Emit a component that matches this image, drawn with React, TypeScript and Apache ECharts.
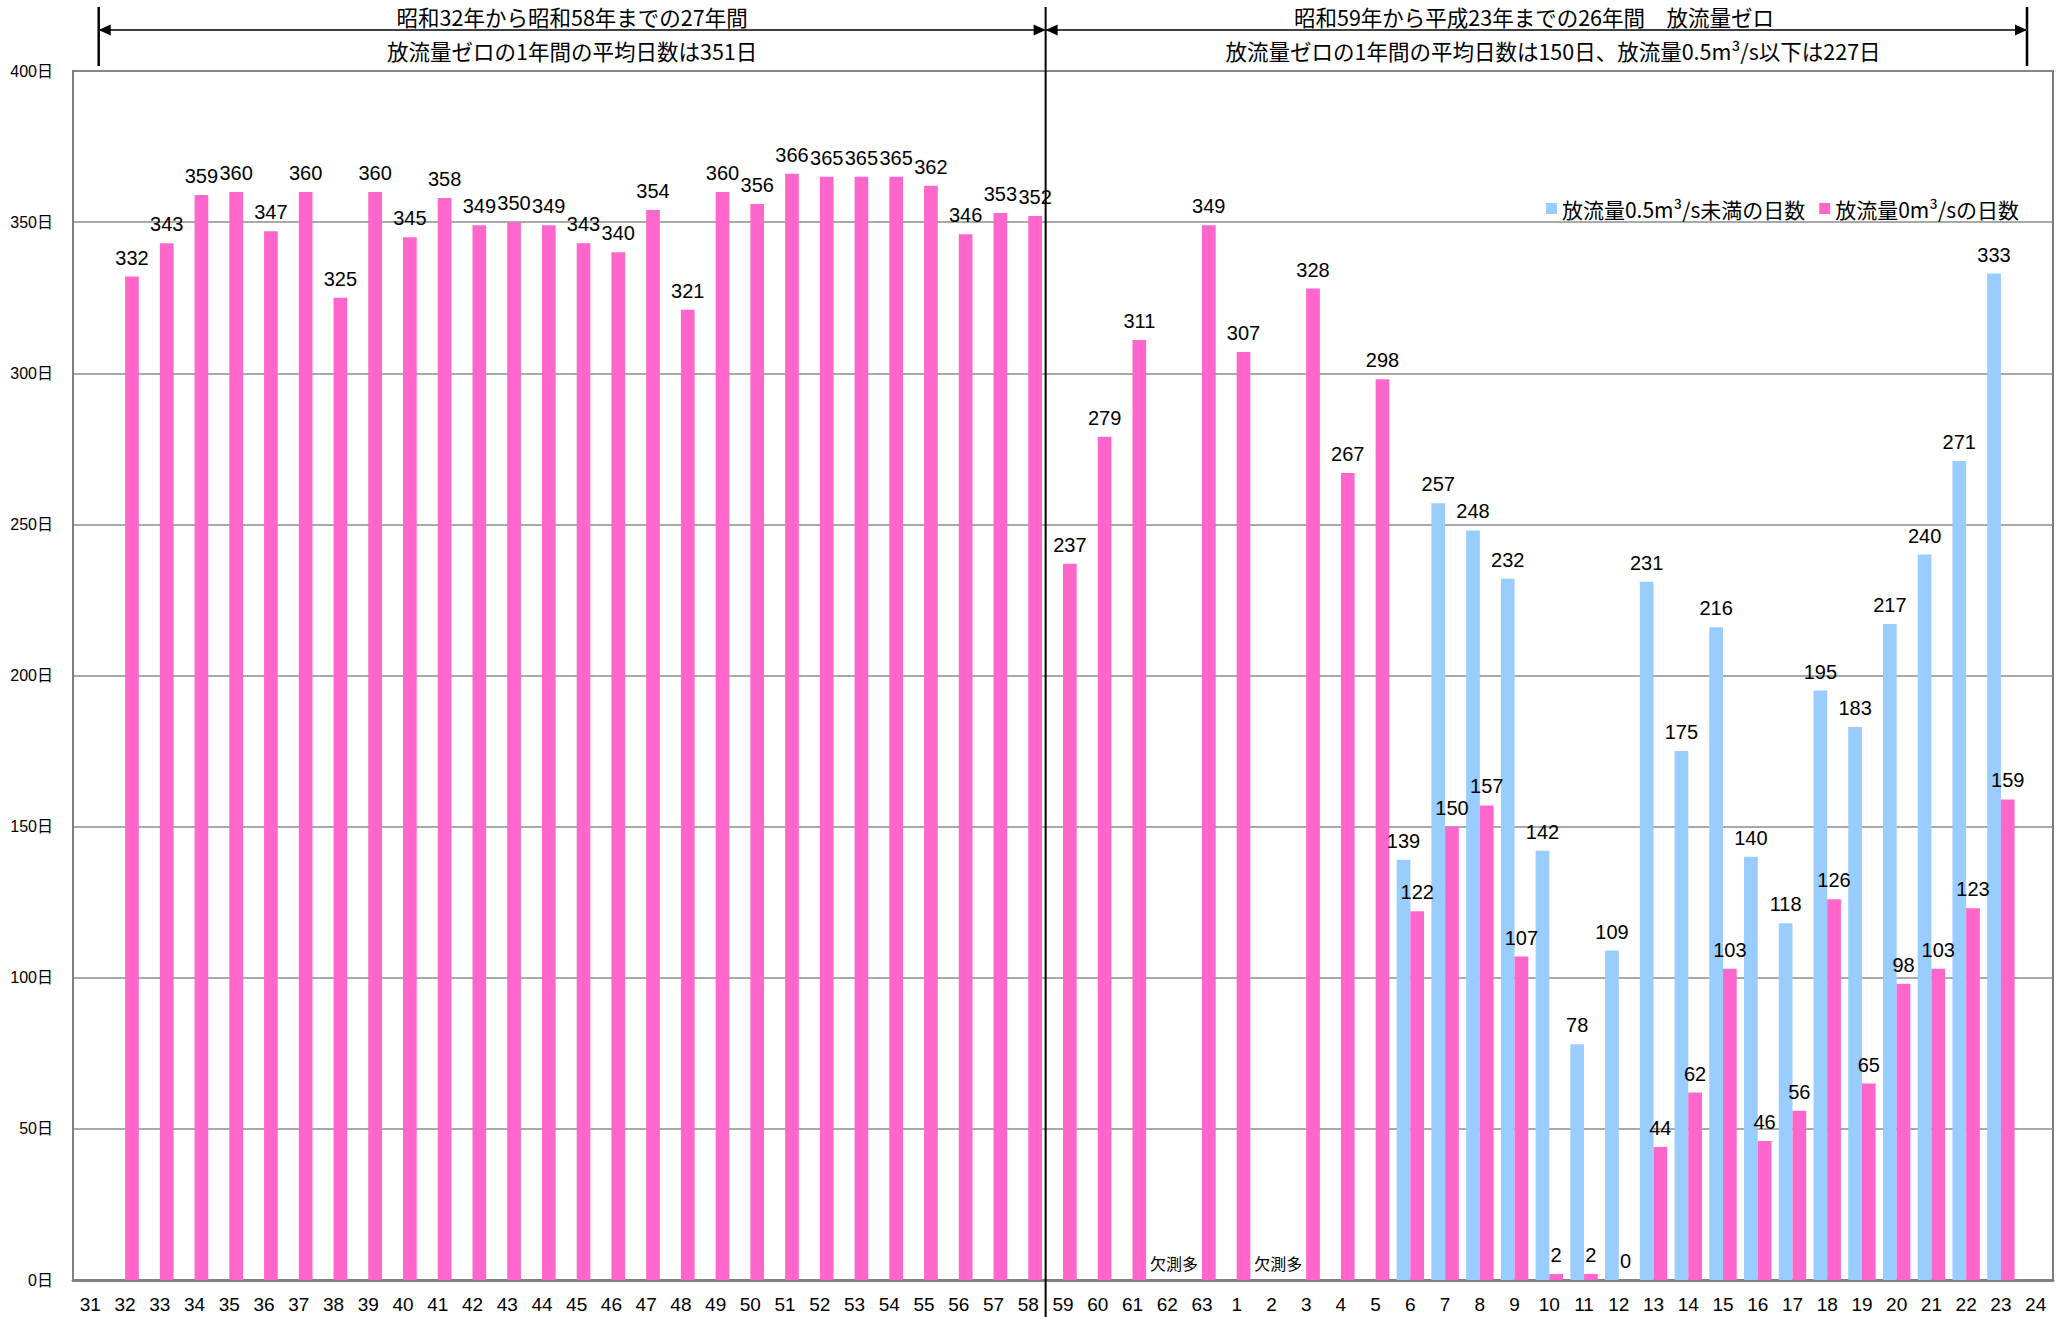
import React, { useEffect, useRef } from "react";
import * as echarts from "echarts";

// ---- data ----
const showaYears = ["31","32","33","34","35","36","37","38","39","40","41","42","43","44","45","46","47","48","49","50","51","52","53","54","55","56","57","58","59","60","61","62","63"];
const heiseiYears = ["1","2","3","4","5","6","7","8","9","10","11","12","13","14","15","16","17","18","19","20","21","22","23","24"];
const categories = [...showaYears, ...heiseiYears];

const seriesNames = ["放流量0.5m³/s未満の日数", "放流量0m³/sの日数"];

// days with discharge < 0.5 m3/s (blue)
const under05Days: (number | null)[] = [
  null, null, null, null, null, null, null, null, null, null, null, null, null, null, null, null, null,
  null, null, null, null, null, null, null, null, null, null, null, null, null, null, null, null,
  null, null, null, null, null,
  139, 257, 248, 232, 142, 78, 109, 231, 175, 216, 140, 118, 195, 183, 217, 240, 271, 333, null,
];

// days with discharge = 0 m3/s (pink)
const zeroDays: (number | null)[] = [
  null,
  332, 343, 359, 360, 347, 360, 325, 360, 345, 358, 349, 350, 349, 343, 340, 354, 321, 360, 356, 366, 365, 365, 365, 362, 346, 353, 352,
  237, 279, 311, null, 349,
  307, null, 328, 267, 298,
  122, 150, 157, 107, 2, 2, 0, 44, 62, 103, 46, 56, 126, 65, 98, 103, 123, 159, null,
];

const missingNote = "欠測多";
const missingCategories = ["62", "2"];

const yTicks = { min: 0, max: 400, interval: 50 };

const topTexts = {
  left1: "昭和32年から昭和58年までの27年間",
  left2: "放流量ゼロの1年間の平均日数は351日",
  right1: "昭和59年から平成23年までの26年間\u3000放流量ゼロ",
  right2: "放流量ゼロの1年間の平均日数は150日、放流量0.5m³/s以下は227日",
};
const splitBetween = ["58", "59"];

const FONT = '"Liberation Sans", Arial, "Noto Sans CJK JP", sans-serif';
const CJK = '"Noto Sans CJK JP", "Liberation Sans", sans-serif';

export default function App() {
  const ref = useRef<HTMLDivElement>(null);
  useEffect(() => {
    if (!ref.current) return;
    const chart = echarts.init(ref.current, undefined, { renderer: "svg" });

    const pinkData = categories.map((c, i) => {
      if (missingCategories.includes(c)) {
        return {
          value: 0,
          label: { formatter: missingNote, fontSize: 16, fontFamily: CJK },
        };
      }
      return zeroDays[i] === null ? "-" : zeroDays[i];
    });
    const blueData = under05Days.map((v) => (v === null ? "-" : v));

    const labelCfg = {
      show: true,
      position: "top",
      distance: 9,
      color: "#000",
      fontSize: 20,
      fontFamily: FONT,
    };

    chart.setOption({
      animation: false,
      backgroundColor: "#fff",
      textStyle: { fontFamily: FONT },
      grid: {
        left: 73,
        right: 13,
        top: 71,
        bottom: 37,
        show: true,
        borderColor: "#7a7a7a",
        borderWidth: 2,
      },
      legend: {
        data: seriesNames,
        right: 42,
        top: 193,
        icon: "rect",
        itemWidth: 11,
        itemHeight: 11,
        itemGap: 14,
        textStyle: { fontSize: 21, color: "#000", fontFamily: CJK },
      },
      xAxis: {
        type: "category",
        data: categories,
        axisTick: { show: false },
        axisLine: { lineStyle: { color: "#808080", width: 3 } },
        axisLabel: {
          interval: 0,
          margin: 15,
          fontSize: 19,
          color: "#000",
          fontFamily: '"Liberation Sans Narrow", "Arial Narrow", "Liberation Sans", sans-serif',
        },
      },
      yAxis: {
        type: "value",
        min: yTicks.min,
        max: yTicks.max,
        interval: yTicks.interval,
        axisLine: { show: true, lineStyle: { color: "#808080", width: 2 } },
        axisTick: { show: false },
        axisLabel: {
          formatter: "{value}日",
          fontSize: 16,
          color: "#000",
          margin: 20,
          fontFamily: FONT,
        },
        splitLine: { lineStyle: { color: "#8c8c8c", width: 1.5 } },
      },
      series: [
        {
          name: seriesNames[0],
          type: "bar",
          data: blueData,
          barWidth: 13.7,
          barGap: "0%",
          itemStyle: { color: "#99CCFF" },
          label: labelCfg,
        },
        {
          name: seriesNames[1],
          type: "bar",
          data: pinkData,
          barWidth: 13.7,
          barGap: "0%",
          itemStyle: { color: "#FF66CC" },
          label: labelCfg,
        },
      ],
    });

    const xa = chart.convertToPixel({ xAxisIndex: 0 }, splitBetween[0]) as number;
    const xb = chart.convertToPixel({ xAxisIndex: 0 }, splitBetween[1]) as number;
    const divX = (xa + xb) / 2;
    const leftX = 98.7;
    const rightX = 2027;
    const arrowY = 30;
    const aLen = 12;
    const aHalf = 5.5;
    const H = 1317;

    const line = (x1: number, y1: number, x2: number, y2: number, color: string, w: number) => ({
      type: "line",
      shape: { x1, y1, x2, y2 },
      style: { stroke: color, lineWidth: w },
      z: 100,
    });
    const head = (tipX: number, dir: number) => ({
      type: "polygon",
      shape: {
        points: [
          [tipX, arrowY],
          [tipX + dir * aLen, arrowY - aHalf],
          [tipX + dir * aLen, arrowY + aHalf],
        ],
      },
      style: { fill: "#000" },
      z: 101,
    });
    const txt = (x: number, y: number, text: string) => ({
      type: "text",
      x,
      y,
      style: {
        text,
        fill: "#000",
        fontSize: 21.5,
        fontFamily: CJK,
        align: "center",
        verticalAlign: "middle",
      },
      z: 101,
    });

    chart.setOption({
      graphic: [
        line(leftX, 7, leftX, 66, "#000", 2.5),
        line(rightX, 7, rightX, 66, "#000", 2.5),
        line(divX, 7, divX, H, "#000", 2),
        line(leftX, arrowY, divX, arrowY, "#404040", 2),
        line(divX, arrowY, rightX, arrowY, "#404040", 2),
        head(leftX, 1),
        head(divX, -1),
        head(divX, 1),
        head(rightX, -1),
        txt((leftX + divX) / 2, 16, topTexts.left1),
        txt((leftX + divX) / 2, 50, topTexts.left2),
        txt(1534, 16, topTexts.right1),
        txt(1553, 50, topTexts.right2),
      ],
    });

    return () => chart.dispose();
  }, []);

  return (
    <div
      ref={ref}
      style={{ position: "absolute", left: 0, top: 0, width: 2066, height: 1317 }}
    />
  );
}
